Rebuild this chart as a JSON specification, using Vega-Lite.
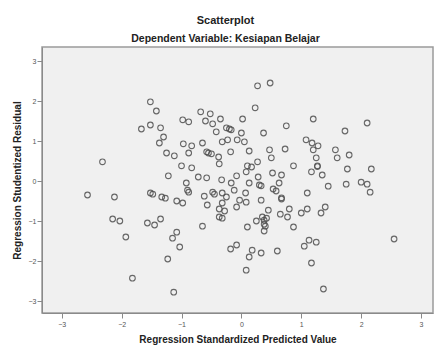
{
  "$schema": "https://vega.github.io/schema/vega-lite/v6.json",
  "autosize": "none",
  "width": 391,
  "height": 266,
  "padding": {"left": 42, "top": 47, "right": 1, "bottom": 36},
  "background": "white",
  "title": {
    "text": "Scatterplot",
    "subtitle": "Dependent Variable: Kesiapan Belajar",
    "anchor": "middle",
    "dx": -12,
    "font": "Liberation Sans",
    "fontSize": 11,
    "fontWeight": "bold",
    "color": "#222222",
    "subtitleFont": "Liberation Sans",
    "subtitleFontSize": 10.5,
    "subtitleFontWeight": "bold",
    "subtitleColor": "#222222",
    "subtitlePadding": 8,
    "offset": 3
  },
  "config": {
    "view": {"fill": "#f0f0f0", "stroke": "#9a9a9a", "strokeWidth": 1.5},
    "axis": {
      "grid": false,
      "domainColor": "#8a8a8a",
      "tickColor": "#8a8a8a",
      "tickSize": 5,
      "labelFont": "Liberation Sans",
      "labelFontSize": 7,
      "labelColor": "#555555",
      "titleFont": "Liberation Sans",
      "titleFontSize": 10,
      "titleFontWeight": "bold",
      "titleColor": "#222222"
    }
  },
  "data": {
    "values": [
      {"x": -1.52, "y": 1.98}, {"x": -1.42, "y": 1.75}, {"x": -0.68, "y": 1.73}, {"x": -0.52, "y": 1.68},
      {"x": -0.35, "y": 1.55}, {"x": -0.98, "y": 1.53}, {"x": -0.88, "y": 1.48}, {"x": -0.60, "y": 1.50},
      {"x": -0.48, "y": 1.43}, {"x": -1.67, "y": 1.30}, {"x": -1.52, "y": 1.40}, {"x": -1.35, "y": 1.33},
      {"x": -0.25, "y": 1.33}, {"x": -0.17, "y": 1.28}, {"x": -0.42, "y": 1.23}, {"x": -1.30, "y": 1.10},
      {"x": -1.37, "y": 0.95}, {"x": -0.65, "y": 0.95}, {"x": -0.32, "y": 0.98}, {"x": -0.23, "y": 1.03},
      {"x": -0.97, "y": 0.93}, {"x": -0.83, "y": 0.88}, {"x": -0.88, "y": 0.70}, {"x": -0.58, "y": 0.73},
      {"x": -0.50, "y": 0.68}, {"x": -0.38, "y": 0.60}, {"x": -0.18, "y": 0.73}, {"x": -1.25, "y": 0.70},
      {"x": -1.12, "y": 0.63}, {"x": -2.32, "y": 0.48}, {"x": -1.00, "y": 0.38}, {"x": -0.83, "y": 0.33},
      {"x": -0.37, "y": 0.43}, {"x": -1.22, "y": 0.13}, {"x": -0.72, "y": 0.10}, {"x": -0.58, "y": 0.08},
      {"x": -0.08, "y": 0.13}, {"x": 0.27, "y": 2.38}, {"x": 0.48, "y": 2.45}, {"x": 0.23, "y": 1.83},
      {"x": 0.02, "y": 1.55}, {"x": 0.75, "y": 1.38}, {"x": 1.20, "y": 1.55}, {"x": 2.10, "y": 1.45},
      {"x": 1.73, "y": 1.25}, {"x": 0.00, "y": 1.20}, {"x": 0.37, "y": 1.20}, {"x": -0.07, "y": 1.03},
      {"x": 0.05, "y": 0.98}, {"x": 1.08, "y": 1.03}, {"x": 1.18, "y": 0.95}, {"x": 1.28, "y": 0.88},
      {"x": 1.57, "y": 0.78}, {"x": 1.80, "y": 0.65}, {"x": 1.60, "y": 0.58}, {"x": 1.20, "y": 0.78},
      {"x": 0.47, "y": 0.78}, {"x": 0.73, "y": 0.80}, {"x": 0.13, "y": 0.75}, {"x": 1.25, "y": 0.58},
      {"x": 0.50, "y": 0.58}, {"x": 0.27, "y": 0.48}, {"x": 0.10, "y": 0.38}, {"x": 0.17, "y": 0.35},
      {"x": 0.87, "y": 0.38}, {"x": 1.27, "y": 0.38}, {"x": 1.77, "y": 0.30}, {"x": 2.17, "y": 0.30},
      {"x": 1.17, "y": 0.23}, {"x": 0.52, "y": 0.20}, {"x": 0.67, "y": 0.15}, {"x": 0.28, "y": 0.10},
      {"x": 0.08, "y": 0.23}, {"x": 1.35, "y": 0.15}, {"x": -0.92, "y": -0.05}, {"x": -0.33, "y": 0.03},
      {"x": -0.17, "y": -0.05}, {"x": -2.57, "y": -0.35}, {"x": -2.12, "y": -0.40}, {"x": -1.52, "y": -0.30},
      {"x": -1.48, "y": -0.33}, {"x": -0.90, "y": -0.23}, {"x": -0.88, "y": -0.28}, {"x": -1.33, "y": -0.40},
      {"x": -1.27, "y": -0.43}, {"x": -1.08, "y": -0.50}, {"x": -0.98, "y": -0.55}, {"x": -0.62, "y": -0.38},
      {"x": -0.48, "y": -0.28}, {"x": -0.32, "y": -0.30}, {"x": -0.25, "y": -0.40}, {"x": -0.57, "y": -0.60},
      {"x": -0.32, "y": -0.55}, {"x": -0.37, "y": -0.70}, {"x": -0.28, "y": -0.75}, {"x": -0.08, "y": -0.65},
      {"x": -0.37, "y": -0.90}, {"x": -0.32, "y": -0.93}, {"x": -2.15, "y": -0.95}, {"x": -2.03, "y": -1.00},
      {"x": -1.57, "y": -1.05}, {"x": -1.45, "y": -1.10}, {"x": -1.35, "y": -0.95}, {"x": -0.65, "y": -1.13},
      {"x": -1.08, "y": -1.28}, {"x": -1.15, "y": -1.43}, {"x": -1.93, "y": -1.40}, {"x": -1.03, "y": -1.65},
      {"x": -0.18, "y": -1.70}, {"x": -0.08, "y": -1.60}, {"x": -1.23, "y": -1.95}, {"x": -1.82, "y": -2.43},
      {"x": -1.13, "y": -2.78}, {"x": 0.13, "y": -0.05}, {"x": 0.30, "y": -0.10}, {"x": 0.63, "y": -0.05},
      {"x": 1.75, "y": -0.08}, {"x": 2.00, "y": -0.03}, {"x": 2.10, "y": -0.08}, {"x": 2.15, "y": -0.28},
      {"x": 1.45, "y": -0.13}, {"x": 0.53, "y": -0.20}, {"x": 0.58, "y": -0.25}, {"x": -0.12, "y": -0.23},
      {"x": 0.07, "y": -0.30}, {"x": 1.10, "y": -0.30}, {"x": 0.67, "y": -0.45}, {"x": 0.33, "y": -0.48},
      {"x": -0.03, "y": -0.48}, {"x": 0.08, "y": -0.53}, {"x": 1.40, "y": -0.65}, {"x": 1.10, "y": -0.70},
      {"x": 0.80, "y": -0.70}, {"x": 0.45, "y": -0.73}, {"x": 0.65, "y": -0.83}, {"x": 0.77, "y": -0.90},
      {"x": 1.00, "y": -0.80}, {"x": 1.33, "y": -0.80}, {"x": 0.35, "y": -0.90}, {"x": 0.38, "y": -0.98},
      {"x": 0.25, "y": -1.00}, {"x": 0.10, "y": -1.15}, {"x": 0.40, "y": -1.13}, {"x": 0.87, "y": -1.15},
      {"x": 0.38, "y": -1.25}, {"x": 1.13, "y": -1.48}, {"x": 1.25, "y": -1.53}, {"x": 1.05, "y": -1.63},
      {"x": 2.55, "y": -1.45}, {"x": 0.18, "y": -1.73}, {"x": 0.33, "y": -1.80}, {"x": 0.60, "y": -1.75},
      {"x": 0.13, "y": -1.90}, {"x": 0.08, "y": -2.23}, {"x": 1.17, "y": -2.05}, {"x": 1.37, "y": -2.70},
      {"x": 0.42, "y": -0.93}, {"x": 0.38, "y": -1.08}, {"x": 0.67, "y": -0.42}, {"x": 1.27, "y": 0.36},
      {"x": -0.45, "y": -0.33}, {"x": -0.20, "y": 1.30}, {"x": 0.33, "y": -0.12}, {"x": -0.55, "y": 0.70}
    ]
  },
  "mark": {"type": "point", "shape": "circle", "filled": false, "size": 32, "strokeWidth": 1.1, "color": "#505050", "opacity": 0.85},
  "encoding": {
    "x": {
      "field": "x", "type": "quantitative",
      "scale": {"domain": [-3.33, 3.2], "nice": false, "zero": false},
      "axis": {"values": [-3, -2, -1, 0, 1, 2, 3], "title": "Regression Standardized Predicted Value", "labelPadding": 2, "titlePadding": 7}
    },
    "y": {
      "field": "y", "type": "quantitative",
      "scale": {"domain": [-3.3, 3.35], "nice": false, "zero": false},
      "axis": {"values": [-3, -2, -1, 0, 1, 2, 3], "title": "Regression Studentized Residual", "labelPadding": 1, "titlePadding": 6}
    }
  }
}
